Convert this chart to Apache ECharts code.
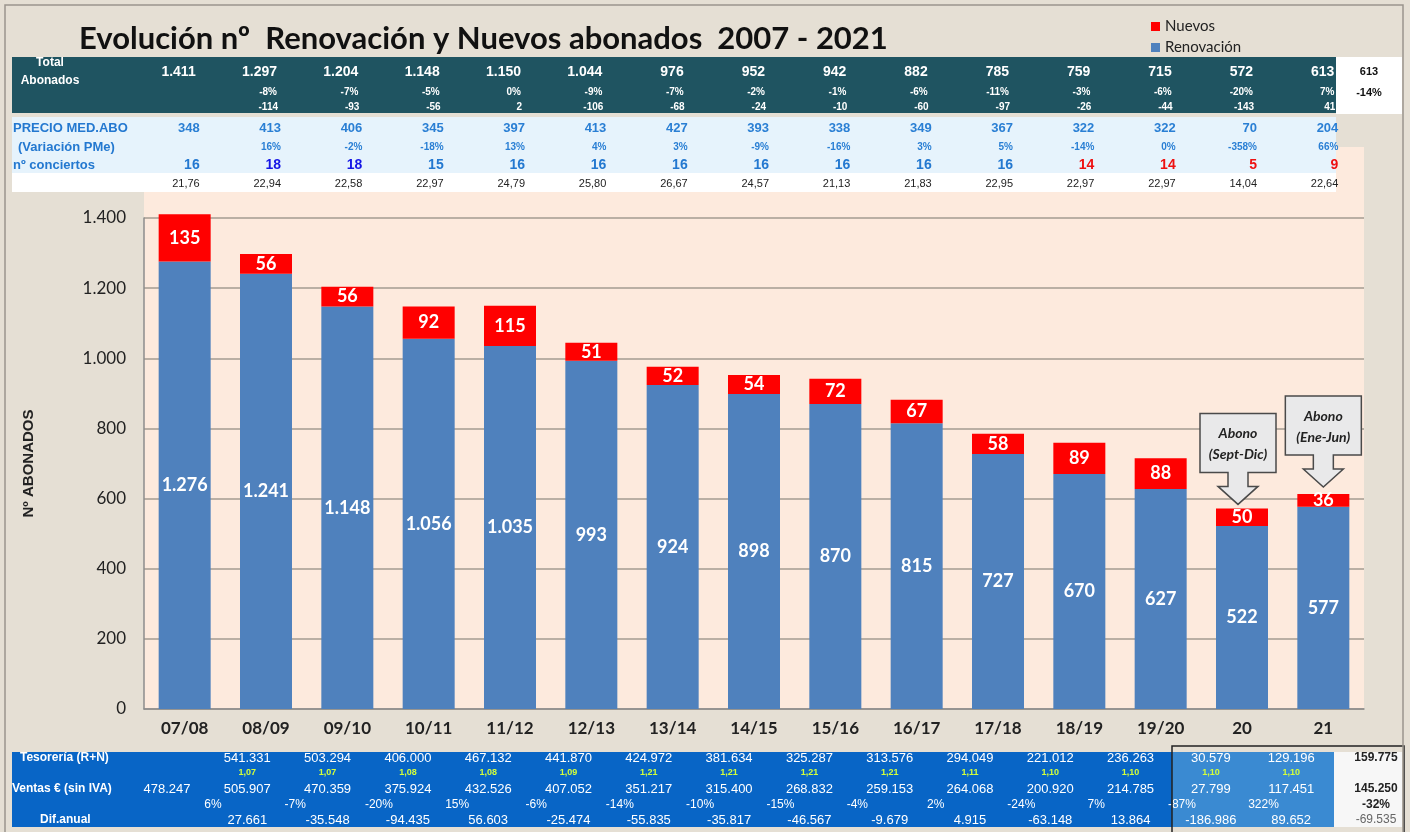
<!DOCTYPE html>
<html>
<head>
<meta charset="utf-8">
<script src="https://cdn.jsdelivr.net/npm/echarts@6/dist/echarts.min.js"></script>
<style>
  html, body { margin: 0; padding: 0; background: #e5dfd4; }
  #chart { width: 1410px; height: 832px; }
</style>
</head>
<body>
<div id="chart"></div>
<script>
// temporadas
const categories = ['07/08', '08/09', '09/10', '10/11', '11/12', '12/13', '13/14', '14/15', '15/16', '16/17', '17/18', '18/19', '19/20', '20', '21']
const renovacion = [1276, 1241, 1148, 1056, 1035, 993, 924, 898, 870, 815, 727, 670, 627, 522, 577]
const nuevos = [135, 56, 56, 92, 115, 51, 52, 54, 72, 67, 58, 89, 88, 50, 36]

// tabla superior
const totalAbonados = [1411, 1297, 1204, 1148, 1150, 1044, 976, 952, 942, 882, 785, 759, 715, 572, 613]
const totalVarPct = [null, -8, -7, -5, 0, -9, -7, -2, -1, -6, -11, -3, -6, -20, 7]
const totalDif = [null, -114, -93, -56, 2, -106, -68, -24, -10, -60, -97, -26, -44, -143, 41]
const precioMedio = [348, 413, 406, 345, 397, 413, 427, 393, 338, 349, 367, 322, 322, 70, 204]
const precioVarPct = [null, 16, -2, -18, 13, 4, 3, -9, -16, 3, 5, -14, 0, -358, 66]
const conciertos = [16, 18, 18, 15, 16, 16, 16, 16, 16, 16, 16, 14, 14, 5, 9]
const precioConcierto = [21.76, 22.94, 22.58, 22.97, 24.79, 25.80, 26.67, 24.57, 21.13, 21.83, 22.95, 22.97, 22.97, 14.04, 22.64]
const resumenTotal = [613, -14]

// tabla inferior
const tesoreria = [null, 541331, 503294, 406000, 467132, 441870, 424972, 381634, 325287, 313576, 294049, 221012, 236263, 30579, 129196]
const ratioTesoreria = [null, 1.07, 1.07, 1.08, 1.08, 1.09, 1.21, 1.21, 1.21, 1.21, 1.11, 1.10, 1.10, 1.10, 1.10]
const ventas = [478247, 505907, 470359, 375924, 432526, 407052, 351217, 315400, 268832, 259153, 264068, 200920, 214785, 27799, 117451]
const ventasVarPct = [null, 6, -7, -20, 15, -6, -14, -10, -15, -4, 2, -24, 7, -87, 322]
const difAnual = [null, 27661, -35548, -94435, 56603, -25474, -55835, -35817, -46567, -9679, 4915, -63148, 13864, -186986, 89652]
const resumenVentas = [159775, 145250, -32, -69535]

const fmt = v => String(v).replace(/\B(?=(\d{3})+(?!\d))/g, '.')
const dec = v => v.toFixed(2).replace('.', ',')
const pct = v => v + '%'

const TF = '"Liberation Sans", Arial, sans-serif'

const chart = echarts.init(document.getElementById('chart'))

const option = {
  backgroundColor: '#e5dfd4',
  animation: false,
  textStyle: { fontFamily: 'Lato' },
  title: {
    text: 'Evolución nº  Renovación y Nuevos abonados  2007 - 2021',
    left: 74,
    top: 18,
    textStyle: { fontSize: 31, fontWeight: 'bold', color: '#111', fontFamily: 'Lato' }
  },
  legend: {
    data: ['Nuevos', 'Renovación'],
    orient: 'vertical',
    left: 1146,
    top: 14,
    icon: 'rect',
    itemWidth: 9,
    itemHeight: 9,
    itemGap: 6,
    textStyle: { fontSize: 15, color: '#222' }
  },
  grid: { left: 144, right: 46, top: 218, bottom: 123 },
  xAxis: {
    type: 'category',
    data: categories,
    axisTick: { show: false },
    axisLine: { lineStyle: { color: '#8c8c8c', width: 1.5 } },
    axisLabel: { fontSize: 17, fontWeight: 'bold', color: '#222', margin: 11 }
  },
  yAxis: {
    type: 'value',
    min: 0,
    max: 1400,
    interval: 200,
    name: 'Nº ABONADOS',
    nameLocation: 'middle',
    nameGap: 108,
    nameTextStyle: { fontSize: 15, fontWeight: 'bold', color: '#222', fontFamily: TF },
    axisLine: { show: true, lineStyle: { color: '#8c8c8c', width: 1.5 } },
    axisLabel: { fontSize: 17, color: '#222', margin: 18, formatter: fmt },
    splitLine: { lineStyle: { color: '#a39b91', width: 1.5 } }
  },
  series: [
    {
      name: 'Renovación',
      type: 'bar',
      stack: 'abonados',
      data: renovacion,
      barWidth: 52,
      itemStyle: { color: '#4f81bd' },
      label: { show: true, position: 'inside', color: '#fff', fontSize: 18, fontWeight: 'bold', formatter: p => fmt(p.value) }
    },
    {
      name: 'Nuevos',
      type: 'bar',
      stack: 'abonados',
      data: nuevos,
      barWidth: 52,
      clip: false,
      itemStyle: { color: '#ff0000' },
      label: { show: true, position: 'inside', color: '#fff', fontSize: 18, fontWeight: 'bold' }
    }
  ]
}
chart.setOption(option)

const px = i => chart.convertToPixel({ xAxisIndex: 0 }, categories[i])
const py = v => chart.convertToPixel({ yAxisIndex: 0 }, v)

const rect = (x, y, w, h, fill, z = 10) => ({ type: 'rect', z, shape: { x, y, width: w, height: h }, style: { fill } })
const txt = (x, y, text, font, fill, align = 'center') => ({
  type: 'text', x, y, z: 20,
  style: { text, font, fill, textAlign: align, textVerticalAlign: 'middle' }
})

const g = []
// fondo de la zona del grafico
g.push(rect(144, 147, 1220, 562, '#fdeadd', -1))

// tabla superior: fondos
g.push(rect(12, 57, 1324, 56, '#1f5461'))
g.push(rect(1336, 57, 66, 57, '#ffffff'))
g.push(rect(12, 117, 1324, 56, '#e6f3fc'))
g.push(rect(12, 173, 1324, 19, '#ffffff'))

g.push(txt(50, 63, 'Total', 'bold 12px ' + TF, '#fff'))
g.push(txt(50, 81, 'Abonados', 'bold 12px ' + TF, '#fff'))
g.push(txt(13, 128, 'PRECIO MED.ABO', 'bold 13px ' + TF, '#2378d0', 'left'))
g.push(txt(18, 147, '(Variación PMe)', 'bold 13px ' + TF, '#2378d0', 'left'))
g.push(txt(13, 165, 'nº conciertos', 'bold 13px ' + TF, '#2378d0', 'left'))

const concColor = v => v > 16 ? '#1515e6' : (v < 15 ? '#ee1111' : '#2378d0')

categories.forEach((c, i) => {
  const x = px(i)
  g.push(txt(x + 11, 72, fmt(totalAbonados[i]), 'bold 14px ' + TF, '#fff', 'right'))
  if (totalVarPct[i] !== null) g.push(txt(x + 11, 92, pct(totalVarPct[i]), 'bold 10px ' + TF, '#fff', 'right'))
  if (totalDif[i] !== null) g.push(txt(x + 12, 107, String(totalDif[i]), 'bold 10px ' + TF, '#fff', 'right'))
  g.push(txt(x + 15, 128, String(precioMedio[i]), 'bold 13px ' + TF, '#2a7fd4', 'right'))
  if (precioVarPct[i] !== null) g.push(txt(x + 15, 147, pct(precioVarPct[i]), 'bold 10px ' + TF, '#2a7fd4', 'right'))
  g.push(txt(x + 15, 165, String(conciertos[i]), 'bold 14px ' + TF, concColor(conciertos[i]), 'right'))
  g.push(txt(x + 15, 184, dec(precioConcierto[i]), '11px ' + TF, '#222', 'right'))
})
g.push(txt(1369, 72, String(resumenTotal[0]), 'bold 11px ' + TF, '#111'))
g.push(txt(1369, 93, pct(resumenTotal[1]), 'bold 11px ' + TF, '#111'))

// tabla inferior
g.push(rect(12, 752, 1160, 75, '#0865c6'))
g.push(rect(1172, 752, 162, 75, '#3a8ad2'))
g.push(rect(1334, 752, 68, 75, '#f7f7f7'))
g.push({ type: 'rect', z: 25, shape: { x: 1172, y: 746, width: 232, height: 92 }, style: { fill: null, stroke: '#222', lineWidth: 1.5 } })

g.push(txt(20, 758, 'Tesorería (R+N)', 'bold 12px ' + TF, '#fff', 'left'))
g.push(txt(12, 789, 'Ventas € (sin IVA)', 'bold 12px ' + TF, '#fff', 'left'))
g.push(txt(40, 820, 'Dif.anual', 'bold 12px ' + TF, '#fff', 'left'))

const colX = i => 167 + i * 80.3
categories.forEach((c, i) => {
  const x = colX(i)
  if (tesoreria[i] !== null) g.push(txt(x, 758, fmt(tesoreria[i]), '13px ' + TF, '#fff'))
  if (ratioTesoreria[i] !== null) g.push(txt(x, 773, dec(ratioTesoreria[i]), 'bold 9px ' + TF, '#d4ff3a'))
  g.push(txt(x, 789, fmt(ventas[i]), '13px ' + TF, '#fff'))
  if (ventasVarPct[i] !== null) g.push(txt(x - 43, 805, pct(ventasVarPct[i]), '12px ' + TF, '#fff', 'left'))
  if (difAnual[i] !== null) g.push(txt(x, 820, fmt(difAnual[i]), '13px ' + TF, '#fff'))
})
g.push(txt(1376, 758, fmt(resumenVentas[0]), 'bold 12px ' + TF, '#222'))
g.push(txt(1376, 789, fmt(resumenVentas[1]), 'bold 12px ' + TF, '#222'))
g.push(txt(1376, 805, pct(resumenVentas[2]), 'bold 12px ' + TF, '#222'))
g.push(txt(1376, 820, fmt(resumenVentas[3]), '12px ' + TF, '#666'))

// flechas de anotacion
const callout = (tx, ty, l1, l2) => {
  const top = ty - 91, bot = ty - 32
  g.push({
    type: 'polygon', z: 30,
    shape: { points: [
      [tx - 38, top], [tx + 38, top], [tx + 38, bot], [tx + 10, bot], [tx + 10, ty - 18],
      [tx + 20, ty - 18], [tx, ty], [tx - 20, ty - 18], [tx - 10, ty - 18], [tx - 10, bot], [tx - 38, bot]
    ] },
    style: { fill: '#e9e9ea', stroke: '#4a4a4a', lineWidth: 1.5 }
  })
  g.push(Object.assign(txt(tx, top + 20, l1, 'italic bold 14px Lato', '#222'), { z: 31 }))
  g.push(Object.assign(txt(tx, top + 41, l2, 'italic bold 14px Lato', '#222'), { z: 31 }))
}
callout(px(13) - 4, py(renovacion[13] + nuevos[13]) - 4, 'Abono', '(Sept-Dic)')
callout(px(14), py(renovacion[14] + nuevos[14]) - 7, 'Abono', '(Ene-Jun)')

// marco exterior
g.push({ type: 'rect', z: 40, shape: { x: 5, y: 5, width: 1398, height: 840 }, style: { fill: null, stroke: '#9a958d', lineWidth: 1.5 } })

chart.setOption({ graphic: g })
</script>
</body>
</html>
